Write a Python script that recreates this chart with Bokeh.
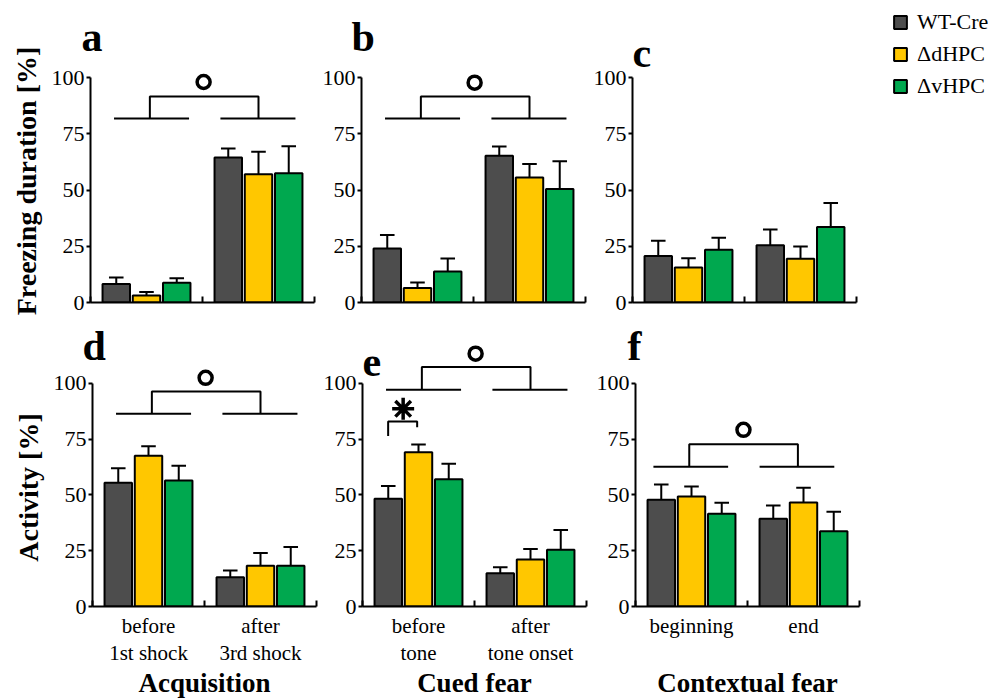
from bokeh.plotting import figure
from bokeh.models import (Range1d, FixedTicker, Legend, LegendItem, ColumnDataSource,
                          LinearAxis)
from bokeh.layouts import row, column
from bokeh.embed import file_html
from bokeh.resources import INLINE
from bokeh.core.properties import value

# ---------------- data ----------------
groups = ["WT-Cre", "ΔdHPC", "ΔvHPC"]
colors = ["#4d4d4d", "#ffc700", "#00a84f"]

acq_line1 = ["before", "after"]
acq_line2 = ["1st shock", "3rd shock"]
cued_line1 = ["before", "after"]
cued_line2 = ["tone", "tone onset"]
ctx_line1 = ["beginning", "end"]
ctx_line2 = ["\u00a0", "\u00a0"]

# means per series (rows: WT-Cre, dHPC, vHPC; columns: two phases)
a_means = [[8.2, 64.4], [3.1, 57.0], [8.8, 57.5]]
a_errs = [[2.9, 4.0], [1.6, 10.0], [2.0, 12.0]]
b_means = [[24.0, 65.2], [6.5, 55.6], [13.8, 50.5]]
b_errs = [[6.0, 4.1], [2.4, 6.0], [5.8, 12.3]]
c_means = [[20.7, 25.5], [15.6, 19.4], [23.4, 33.6]]
c_errs = [[6.7, 6.9], [4.1, 5.5], [5.4, 10.6]]
d_means = [[55.4, 13.1], [67.5, 18.2], [56.4, 18.2]]
d_errs = [[6.5, 3.0], [4.3, 5.8], [6.6, 8.4]]
e_means = [[48.2, 14.9], [69.1, 21.0], [57.0, 25.4]]
e_errs = [[5.7, 2.7], [3.4, 4.7], [6.9, 8.9]]
f_means = [[47.8, 39.3], [49.3, 46.6], [41.5, 33.7]]
f_errs = [[6.8, 5.9], [4.4, 6.6], [4.9, 8.7]]

y_ticks = [0, 25, 50, 75, 100]

FONT = "Liberation Serif"
LETTER_SIZE = "42px"

# significance bracket geometry (data units)
SIG_STD = dict(l1=(0.21, 0.88), l2=(1.16, 1.83), v=(0.53, 1.50), cx=1.01)
SIG_F = dict(l1=(0.16, 0.827), l2=(1.108, 1.775), v=(0.48, 1.45), cx=0.964)


def make_panel(width, height, mbl, mbr, mbt, mbb, xmax, ymax, means, errs,
               line1=None, line2=None, title=None, title_offset=-9, ytitle=None,
               xtitle=None, sig=None, sig_y=None):
    p = figure(width=width, height=height, x_range=Range1d(0, xmax),
               y_range=Range1d(0, ymax), output_backend="svg",
               toolbar_location=None, min_border_left=mbl, min_border_right=mbr,
               min_border_top=mbt, min_border_bottom=mbb, title=title,
               frame_align=False)
    p.xgrid.visible = False
    p.ygrid.visible = False
    p.outline_line_color = None
    p.background_fill_color = "white"
    p.border_fill_color = "white"
    if title:
        p.title.text_font = FONT
        p.title.text_font_size = LETTER_SIZE
        p.title.text_font_style = "bold"
        p.title.text_color = "black"
        p.title.align = "left"
        p.title.offset = title_offset
        p.title.standoff = 0

    xa = p.xaxis[0]
    if line1 is not None:
        xa.ticker = FixedTicker(ticks=[0.5, 1.5], minor_ticks=[0, 1, 2])
        xa.major_label_overrides = {0.5: line1[0], 1.5: line1[1]}
    else:
        xa.ticker = FixedTicker(ticks=[], minor_ticks=[0, 1, 2])
    xa.bounds = (0, 2)
    xa.axis_line_width = 2
    xa.axis_line_color = "black"
    xa.major_tick_line_color = None
    xa.major_tick_in = 0
    xa.major_tick_out = 0
    xa.minor_tick_in = 6
    xa.minor_tick_out = 0
    xa.minor_tick_line_width = 2
    xa.minor_tick_line_color = "black"
    xa.major_label_text_font = FONT
    xa.major_label_text_font_size = "21px"
    xa.major_label_text_color = "black"
    xa.major_label_standoff = 7

    if line2 is not None:
        xb = LinearAxis(ticker=FixedTicker(ticks=[0.5, 1.5]),
                        major_label_overrides={0.5: line2[0], 1.5: line2[1]})
        xb.axis_line_color = None
        xb.major_tick_line_color = None
        xb.minor_tick_line_color = None
        xb.major_tick_in = 0
        xb.major_tick_out = 0
        xb.major_label_standoff = 0
        xb.major_label_text_font = FONT
        xb.major_label_text_font_size = "21px"
        xb.major_label_text_color = "black"
        if xtitle:
            xb.axis_label = xtitle
            xb.axis_label_text_font = FONT
            xb.axis_label_text_font_size = "27px"
            xb.axis_label_text_font_style = "bold"
            xb.axis_label_text_color = "black"
            xb.axis_label_standoff = 0
        p.add_layout(xb, "below")

    ya = p.yaxis[0]
    ya.ticker = FixedTicker(ticks=y_ticks)
    ya.bounds = (0, 100)
    ya.axis_line_width = 2
    ya.axis_line_color = "black"
    ya.major_tick_in = 0
    ya.major_tick_out = 4
    ya.major_tick_line_width = 2
    ya.major_tick_line_color = "black"
    ya.minor_tick_line_color = None
    ya.major_label_text_font = FONT
    ya.major_label_text_font_size = "22px"
    ya.major_label_text_color = "black"
    ya.major_label_standoff = 2
    if ytitle:
        ya.axis_label = ytitle
        ya.axis_label_text_font = FONT
        ya.axis_label_text_font_size = "28px"
        ya.axis_label_text_font_style = "bold"
        ya.axis_label_text_color = "black"
        ya.axis_label_standoff = 7

    offsets = [-0.27, 0.0, 0.27]
    bar_renderers = []
    for i in range(3):
        xs = [0.5 + offsets[i], 1.5 + offsets[i]]
        tops = means[i]
        uppers = [m + e for m, e in zip(means[i], errs[i])]
        src = ColumnDataSource(dict(x=xs, top=tops, upper=uppers,
                                    xl=[x - 0.065 for x in xs],
                                    xr=[x + 0.065 for x in xs]))
        p.segment(x0="x", y0="top", x1="x", y1="upper", source=src,
                  line_color="black", line_width=2)
        p.segment(x0="xl", y0="upper", x1="xr", y1="upper", source=src,
                  line_color="black", line_width=2)
        r = p.vbar(x="x", top="top", bottom=0, width=0.245, source=src,
                   fill_color=colors[i], line_color="black", line_width=2)
        bar_renderers.append(r)

    if sig is not None:
        yl, yb, yc = sig_y
        p.segment(x0=[sig["l1"][0], sig["l2"][0]], y0=[yl, yl],
                  x1=[sig["l1"][1], sig["l2"][1]], y1=[yl, yl],
                  line_color="black", line_width=2)
        p.line(x=[sig["v"][0], sig["v"][0], sig["v"][1], sig["v"][1]],
               y=[yl, yb, yb, yl], line_color="black", line_width=2)
        p.scatter(x=[sig["cx"]], y=[yc], marker="circle", size=13,
                  fill_color="white", line_color="black", line_width=3.5)

    return p, bar_renderers


def letter(p, txt, y):
    p.text(x=[0.0], y=[y], text=[txt], text_font=value(FONT),
           text_font_style=value("bold"), text_font_size=value(LETTER_SIZE),
           text_color="black", text_baseline="alphabetic", text_align="left")


# ---------------- row 1 (2.25 px per unit) ----------------
R1H = 320
pa, _ = make_panel(318, R1H, 90, 4, 59, 18, 2, 108, a_means, a_errs,
                   title="a", ytitle="Freezing duration [%]",
                   sig=SIG_STD, sig_y=(81.8, 91.6, 98.0))
pb, _ = make_panel(272, R1H, 43, 5, 59, 18, 2, 108, b_means, b_errs,
                   title="b", title_offset=-10, sig=SIG_STD, sig_y=(81.8, 91.6, 97.7))
pc, c_bars = make_panel(410, R1H, 42, 2, 5, 18, 2 * 366 / 224, 132, c_means, c_errs)
letter(pc, "c", 110.7)

# ---------------- row 2 (268 px per 120 units) ----------------
R2H = 380
pd, _ = make_panel(320, R2H, 92, 4, 48, 94, 2, 238 * 120 / 268, d_means, d_errs,
                   line1=acq_line1, line2=acq_line2, title="d", title_offset=-10,
                   ytitle="Activity [%]", xtitle="Acquisition",
                   sig=SIG_STD, sig_y=(86.3, 96.3, 102.4))
pe, _ = make_panel(272, R2H, 42, 6, 18, 94, 2, 120, e_means, e_errs,
                   line1=cued_line1, line2=cued_line2, xtitle="Cued fear",
                   sig=SIG_STD, sig_y=(97.0, 107.2, 113.2))
pf, _ = make_panel(408, R2H, 43, 141, 48, 94, 2, 238 * 120 / 268, f_means, f_errs,
                   line1=ctx_line1, line2=ctx_line2, title="f", title_offset=-8,
                   xtitle="Contextual fear", sig=SIG_F, sig_y=(62.6, 72.7, 79.1))
letter(pe, "e", 109.3)

# star bracket in panel e
pe.line(x=[0.229, 0.229, 0.488, 0.488], y=[76.3, 82.8, 82.8, 80.3],
        line_color="black", line_width=2)
pe.scatter(x=[0.363], y=[88.5], marker="asterisk", size=22,
           line_color="black", line_width=3.5)

# legend
legend = Legend(items=[LegendItem(label=groups[i], renderers=[c_bars[i]]) for i in range(3)],
                location=(260, 203), orientation="vertical")
legend.label_text_font = FONT
legend.label_text_font_size = "22px"
legend.label_text_color = "black"
legend.glyph_width = 16
legend.glyph_height = 16
legend.label_height = 22
legend.spacing = 6
legend.padding = 0
legend.margin = 0
legend.label_standoff = 9
legend.border_line_color = None
legend.background_fill_alpha = 0
pc.add_layout(legend)

layout = column(row(pa, pb, pc), row(pd, pe, pf))

open("out.html", "w").write(file_html(layout, INLINE))
